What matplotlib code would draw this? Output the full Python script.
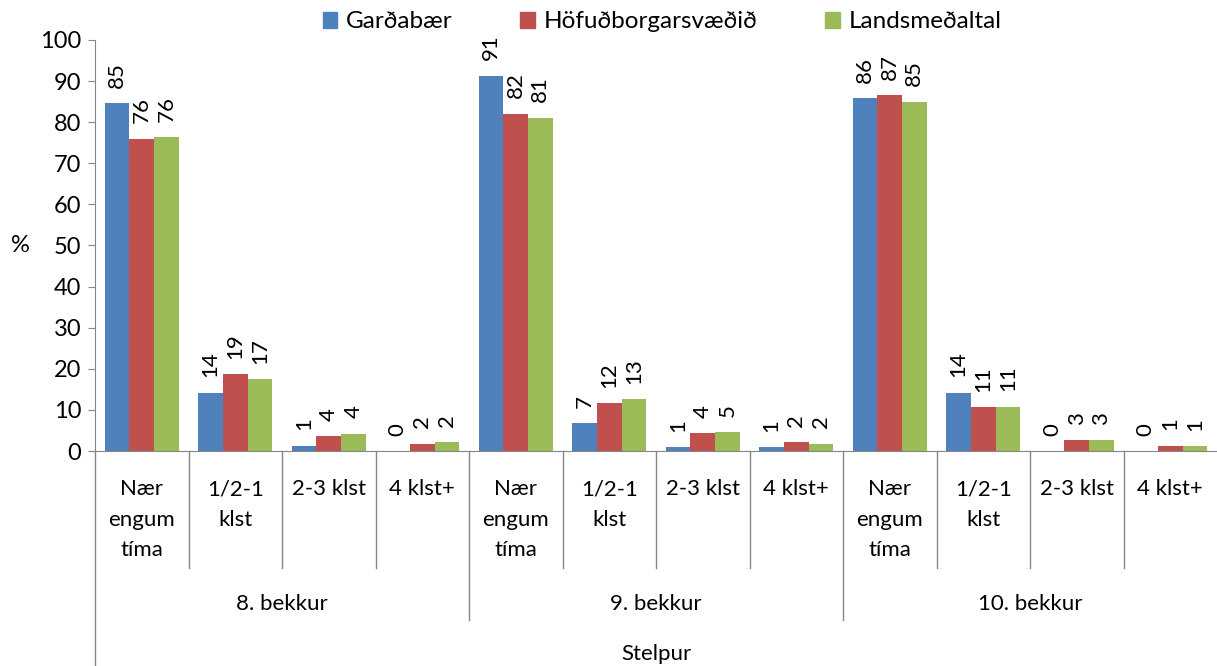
import matplotlib
matplotlib.use("Agg")
import matplotlib.pyplot as plt
from matplotlib.patches import Patch
import numpy as np

plt.rcParams['font.family'] = ['Lato', 'DejaVu Sans']

# data
groups = ["8. bekkur", "9. bekkur", "10. bekkur"]
categories = ["Nær\nengum\ntíma", "1/2-1\nklst", "2-3 klst", "4 klst+"] * 3
series_names = ["Garðabær", "Höfuðborgarsvæðið", "Landsmeðaltal"]
gardabaer = [84.6, 14.2, 1.3, 0.0, 91.3, 6.8, 1.0, 1.0, 85.9, 14.2, 0.0, 0.0]
hofudborg = [76.0, 18.7, 3.6, 1.8, 82.1, 11.6, 4.3, 2.1, 86.6, 10.6, 2.6, 1.3]
landsmedal = [76.4, 17.4, 4.2, 2.1, 81.1, 12.6, 4.6, 1.8, 85.0, 10.8, 2.7, 1.1]
colors = ["#4F81BD", "#C0504D", "#9BBB59"]
outer_label = "Stelpur"

W, H = 1217, 666
fig = plt.figure(figsize=(W / 100, H / 100), dpi=100)
x0, x1, y0, y1 = 95, 1217, 451, 40
ax = fig.add_axes([x0 / W, (H - y0) / H, (x1 - x0) / W, (y0 - y1) / H])

n = len(categories)
x = np.arange(n) + 0.5
bw = 0.263
for i, (vals, col) in enumerate(zip([gardabaer, hofudborg, landsmedal], colors)):
    pos = x + (i - 1) * bw
    ax.bar(pos, vals, width=bw, color=col, edgecolor="none")
    for p, v in zip(pos, vals):
        ax.annotate(f"{v:.0f}", (p, v), xytext=(0, 11), textcoords="offset points",
                    rotation=90, ha="center", va="bottom", fontsize=16)

ax.set_xlim(0, n)
ax.set_ylim(0, 100)
ax.set_yticks(range(0, 101, 10))
ax.tick_params(axis="y", labelsize=17, length=5, color="#868686", pad=5)
ax.set_xticks([])
for s in ["top", "right"]:
    ax.spines[s].set_visible(False)
for s in ["left", "bottom"]:
    ax.spines[s].set_color("#868686")
ax.text((20 - x0) / (x1 - x0), 0.5, "%", transform=ax.transAxes,
        ha="center", va="center", fontsize=17)

# multi-level category axis
px = lambda py: (y0 - py) / (y0 - y1)  # pixel row -> axes fraction
trans = ax.get_xaxis_transform()
for k in range(1, n):
    bottom = 620 if k % 4 == 0 else 568
    ax.plot([k, k], [0, px(bottom)], color="#868686", lw=1, transform=trans, clip_on=False)
ax.plot([0, 0], [0, px(H + 5)], color="#868686", lw=1, transform=trans, clip_on=False)

for xi, lab in zip(x, categories):
    ax.text(xi, px(479), lab, transform=trans, ha="center", va="top",
            fontsize=16, linespacing=1.66)
for g, name in enumerate(groups):
    ax.text(g * 4 + 2, px(604), name, transform=trans, ha="center", va="center", fontsize=16)
ax.text(n / 2, px(654), outer_label, transform=trans, ha="center", va="center", fontsize=16)

handles = [Patch(color=c) for c in colors]
fig.legend(handles, series_names, loc="center", bbox_to_anchor=(0.544, 1 - 22 / H),
           ncol=3, frameon=False, fontsize=17.5, handlelength=0.6, handleheight=0.6,
           handletextpad=0.35, columnspacing=2.8)

fig.savefig("out.png", dpi=100)
